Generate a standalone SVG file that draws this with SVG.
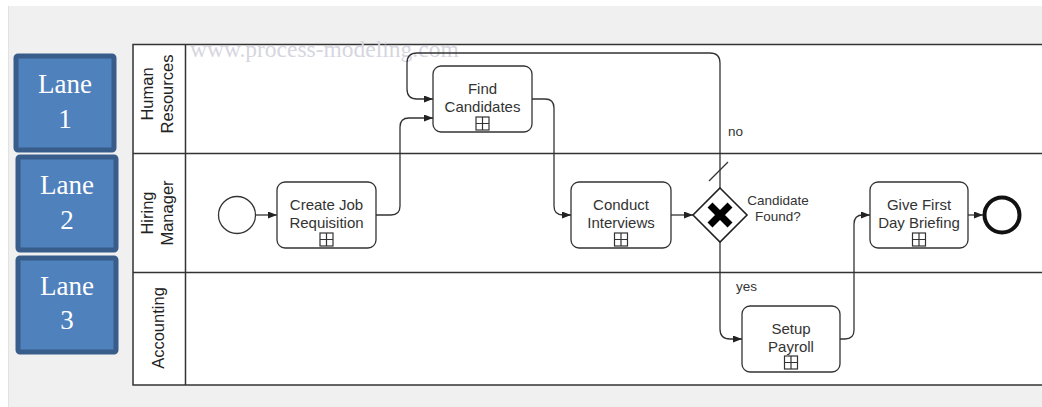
<svg xmlns="http://www.w3.org/2000/svg" xmlns:xlink="http://www.w3.org/1999/xlink" width="1042" height="407" viewBox="0 0 1042 407">
<defs>
<style>
.lanebox{fill:#4F81BD;stroke:#385D8A;stroke-width:5}
.lanetxt{font-family:"Liberation Serif","Times New Roman",serif;font-size:27px;fill:#ffffff;text-anchor:middle}
.pool{fill:none;stroke:#333333;stroke-width:1.5}
.hdr{font-family:"Liberation Sans",Arial,sans-serif;font-size:16.5px;fill:#222222;text-anchor:middle}
.task{fill:#ffffff;stroke:#333333;stroke-width:1.3}
.ttxt{font-family:"Liberation Sans",Arial,sans-serif;font-size:15px;fill:#333333;text-anchor:middle}
.lbl{font-family:"Liberation Sans",Arial,sans-serif;font-size:13.5px;fill:#333333}
.flow{fill:none;stroke:#333333;stroke-width:1.3}
.wm{font-family:"Liberation Serif","Times New Roman",serif;font-size:23.5px;fill:#d6d6e0}
</style>
<marker id="arr" markerUnits="userSpaceOnUse" markerWidth="10" markerHeight="8" refX="9" refY="3.5" orient="auto">
<path d="M0,0 L9,3.5 L0,7 z" fill="#222222"/>
</marker>
<g id="plus">
<rect x="0" y="0" width="13" height="13" fill="#ffffff" stroke="#333333" stroke-width="1.2"/>
<path d="M6.5,0 V13 M0,6.5 H13" stroke="#333333" stroke-width="1.2"/>
</g>
</defs>

<rect x="0" y="0" width="1042" height="407" fill="#ffffff"/>
<rect x="8" y="6" width="1034" height="401" fill="#f0f0f0"/>
<line x1="8.5" y1="6" x2="8.5" y2="407" stroke="#e2e2e2" stroke-width="1"/>

<g id="lane-labels">
<g id="lane1box">
<rect class="lanebox" x="16" y="56" width="98" height="94" rx="2"/>
<text class="lanetxt" x="65" y="93">Lane</text>
<text class="lanetxt" x="65" y="128">1</text>
</g>
<g id="lane2box">
<rect class="lanebox" x="18" y="157" width="98" height="93" rx="2"/>
<text class="lanetxt" x="67" y="194">Lane</text>
<text class="lanetxt" x="67" y="229">2</text>
</g>
<g id="lane3box">
<rect class="lanebox" x="18" y="258" width="98" height="94" rx="2"/>
<text class="lanetxt" x="67" y="295">Lane</text>
<text class="lanetxt" x="67" y="329">3</text>
</g>
</g>

<g id="pool">
<rect x="133" y="44.5" width="909" height="340.5" fill="#ffffff"/>
<path class="pool" d="M1042,44.5 H133 V385 H1042 M185.5,44.5 V385 M133,153.5 H1042 M133,272.5 H1042"/>
<g id="lane-hr">
<text class="hdr" transform="translate(153,94) rotate(-90)">Human</text>
<text class="hdr" transform="translate(172.5,94) rotate(-90)">Resources</text>
</g>
<g id="lane-hm">
<text class="hdr" transform="translate(153,213) rotate(-90)">Hiring</text>
<text class="hdr" transform="translate(172.5,213) rotate(-90)">Manager</text>
</g>
<g id="lane-acc">
<text class="hdr" transform="translate(164,328) rotate(-90)">Accounting</text>
</g>
</g>

<text class="wm" x="190" y="57">www.process-modeling.com</text>

<g id="connectors">
<path class="flow" marker-end="url(#arr)" d="M256,215 H277"/>
<path class="flow" marker-end="url(#arr)" d="M376,215 H391 Q400,215 400,206 V127 Q400,118 409,118 H433"/>
<path class="flow" marker-end="url(#arr)" d="M532,99 H545 Q554,99 554,108 V206 Q554,215 563,215 H571"/>
<path class="flow" marker-end="url(#arr)" d="M671,215 H693"/>
<path class="flow" marker-end="url(#arr)" d="M720,188 V63 Q720,53 710,53 H417 Q407,53 407,63 V89 Q407,99 417,99 H433"/>
<line class="flow" x1="709" y1="181" x2="728" y2="162"/>
<text class="lbl" x="728" y="136">no</text>
<path class="flow" marker-end="url(#arr)" d="M720,242 V329 Q720,339 730,339 H742"/>
<text class="lbl" x="736" y="291">yes</text>
<path class="flow" marker-end="url(#arr)" d="M840,339 H845 Q854,339 854,330 V224 Q854,215 863,215 H870"/>
<path class="flow" marker-end="url(#arr)" d="M968,215 H983"/>
</g>

<g id="start">
<circle cx="237" cy="215" r="18.5" fill="#ffffff" stroke="#333333" stroke-width="1.3"/>
</g>

<g id="create-job">
<rect class="task" x="277" y="182" width="99" height="66" rx="8"/>
<text class="ttxt" x="326.5" y="210">Create Job</text>
<text class="ttxt" x="326.5" y="228">Requisition</text>
<use xlink:href="#plus" x="320" y="233"/>
</g>

<g id="find-candidates">
<rect class="task" x="433" y="66" width="99" height="66" rx="8"/>
<text class="ttxt" x="482.5" y="94">Find</text>
<text class="ttxt" x="482.5" y="112">Candidates</text>
<use xlink:href="#plus" x="476" y="117"/>
</g>

<g id="conduct-interviews">
<rect class="task" x="571" y="182" width="100" height="66" rx="8"/>
<text class="ttxt" x="621" y="210">Conduct</text>
<text class="ttxt" x="621" y="228">Interviews</text>
<use xlink:href="#plus" x="614.5" y="233"/>
</g>

<g id="gateway">
<path d="M720,188 L747,215 L720,242 L693,215 Z" fill="#ffffff" stroke="#222222" stroke-width="1.6"/>
<path d="M710,205 L730,225 M730,205 L710,225" stroke="#000000" stroke-width="7"/>
<text class="lbl" x="778" y="205" text-anchor="middle">Candidate</text>
<text class="lbl" x="778" y="221" text-anchor="middle">Found?</text>
</g>

<g id="setup-payroll">
<rect class="task" x="742" y="306" width="98" height="66" rx="8"/>
<text class="ttxt" x="791" y="334">Setup</text>
<text class="ttxt" x="791" y="352">Payroll</text>
<use xlink:href="#plus" x="784.5" y="356"/>
</g>

<g id="give-first">
<rect class="task" x="870" y="182" width="98" height="66" rx="8"/>
<text class="ttxt" x="919" y="210">Give First</text>
<text class="ttxt" x="919" y="228">Day Briefing</text>
<use xlink:href="#plus" x="912.5" y="233"/>
</g>

<g id="end">
<circle cx="1002" cy="215" r="17.5" fill="#ffffff" stroke="#111111" stroke-width="4"/>
</g>
</svg>
